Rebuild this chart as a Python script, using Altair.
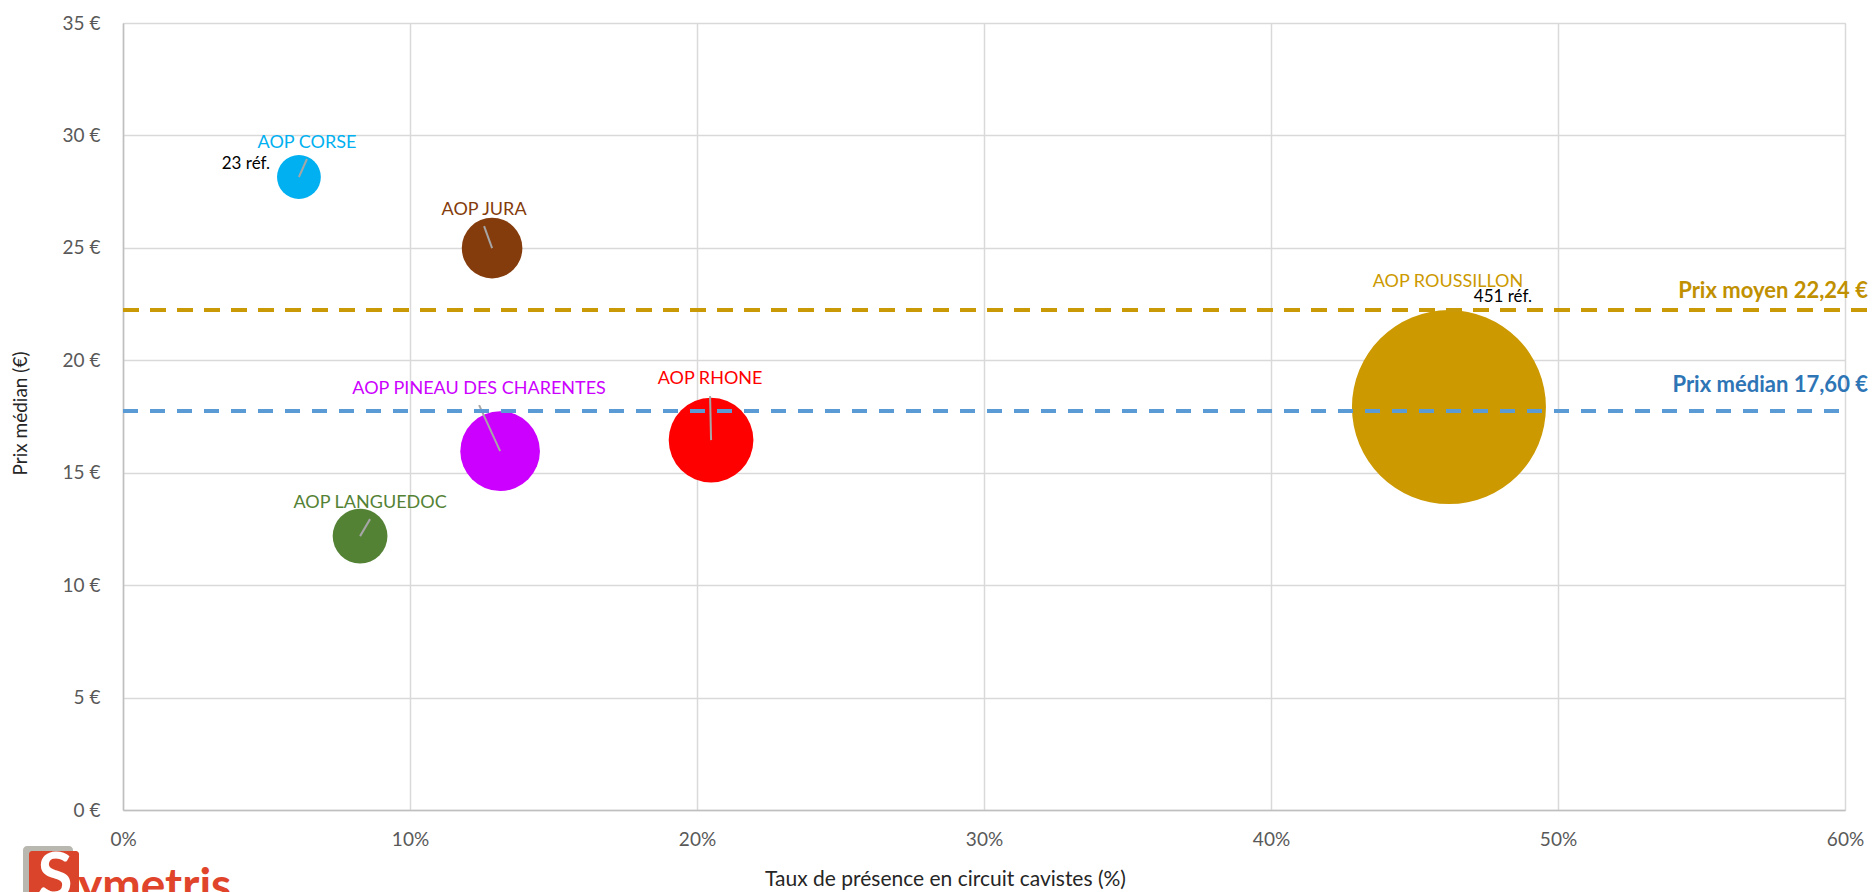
import math
import altair as alt
import pandas as pd

# ---- data ----
names = ["AOP CORSE", "AOP JURA", "AOP PINEAU DES CHARENTES", "AOP RHONE",
         "AOP LANGUEDOC", "AOP ROUSSILLON"]
presence = [0.0613, 0.1286, 0.1314, 0.2049, 0.0826, 0.4620]   # taux de présence
prix = [28.15, 24.99, 15.96, 16.45, 12.18, 17.92]             # prix médian (€)
refs = [23, 44, 76, 86, 36, 451]                                # nombre de références
ref_shown = [True, False, False, False, False, True]
colors = ["#00B0F0", "#843C0C", "#CC00FF", "#FF0000", "#548235", "#CC9900"]

prix_moyen = 22.24
prix_median_line = 17.75
moyen_label = "Prix moyen 22,24 €"
median_label = "Prix médian 17,60 €"

x_ticks = [0, 0.1, 0.2, 0.3, 0.4, 0.5, 0.6]
y_ticks = [0, 5, 10, 15, 20, 25, 30, 35]

# ---- layout / style ----
W, H = 1722, 787
X_MAX, Y_MAX = 0.6, 35
PX_X = W / X_MAX
PX_Y = H / Y_MAX
FONT = "Lato"
R_MAX = 97  # radius in px of the largest bubble

# label placement offsets in pixels relative to bubble centre (style)
label_off = [(8, -34), (-8, -38), (-21, -62), (-1, -61), (10, -33), (-1, -125)]
leader_off = [(8, -18), (-8, -22), (-21, -46), (-1, -44), (10, -17), None]
ref_off = [(-53, -13), None, None, None, None, (54, -110)]

rows = []
for i, n in enumerate(names):
    lx, ly = label_off[i]
    r = dict(name=n, x=presence[i], y=prix[i], refs=refs[i],
             lx=presence[i] + lx / PX_X, ly=prix[i] - ly / PX_Y)
    if leader_off[i] is not None:
        ex, ey = leader_off[i]
        r["ex"] = presence[i] + ex / PX_X
        r["ey"] = prix[i] - ey / PX_Y
    else:
        r["ex"] = presence[i]
        r["ey"] = prix[i]
    if ref_shown[i]:
        rx, ry = ref_off[i]
        r["rx"] = presence[i] + rx / PX_X
        r["ry"] = prix[i] - ry / PX_Y
        r["reftext"] = f"{refs[i]} réf."
    rows.append(r)
df = pd.DataFrame(rows)
df_refs = df[df["reftext"].notna()]
df_leader = df[[o is not None for o in leader_off]]

xs = alt.Scale(domain=[0, X_MAX], nice=False, zero=True)
ys = alt.Scale(domain=[0, Y_MAX], nice=False, zero=True)
color_scale = alt.Scale(domain=names, range=colors)
# Vega circle: radius = sqrt(size)/2 -> size = (2r)^2
size_scale = alt.Scale(domain=[0, max(refs)], range=[0, (2 * R_MAX) ** 2], zero=True)

x_axis = alt.Axis(values=x_ticks, format=".0%", title="Taux de présence en circuit cavistes (%)",
                  grid=True, gridColor="#D9D9D9", gridWidth=1.5, ticks=False, labelFlush=False,
                  domainColor="#BFBFBF", domainWidth=1.5,
                  labelFont=FONT, labelFontSize=19, labelColor="#595959", labelPadding=20,
                  titleFont=FONT, titleFontSize=21, titleFontWeight="normal", titleColor="#262626",
                  titleX=822, titleY=69, titleBaseline="middle", titleAlign="center")
y_axis = alt.Axis(values=y_ticks, labelExpr="datum.value + ' €'", title="Prix médian (€)",
                  grid=True, gridColor="#D9D9D9", gridWidth=1.5, ticks=False,
                  domainColor="#BFBFBF", domainWidth=1.5,
                  labelFont=FONT, labelFontSize=19, labelColor="#595959", labelPadding=23,
                  titleFont=FONT, titleFontSize=19, titleFontWeight="normal", titleColor="#262626",
                  titleX=-103, titleY=390, titleAngle=270, titleBaseline="middle", titleAlign="center")

base = alt.Chart(df)

bubbles = base.mark_circle(opacity=1, strokeWidth=0).encode(
    x=alt.X("x:Q", scale=xs, axis=x_axis),
    y=alt.Y("y:Q", scale=ys, axis=y_axis),
    size=alt.Size("refs:Q", scale=size_scale, legend=None),
    color=alt.Color("name:N", scale=color_scale, legend=None),
)

leaders = alt.Chart(df_leader).mark_rule(color="#A6A6A6", strokeWidth=2).encode(
    x=alt.X("x:Q", scale=xs), y=alt.Y("y:Q", scale=ys), x2="ex:Q", y2="ey:Q")

labels = base.mark_text(font=FONT, fontSize=18, align="center", baseline="middle").encode(
    x=alt.X("lx:Q", scale=xs), y=alt.Y("ly:Q", scale=ys), text="name:N",
    color=alt.Color("name:N", scale=color_scale, legend=None))

ref_labels = alt.Chart(df_refs).mark_text(font=FONT, fontSize=17, align="center",
                                          baseline="middle", color="#000000").encode(
    x=alt.X("rx:Q", scale=xs), y=alt.Y("ry:Q", scale=ys), text="reftext:N")

lines_df = pd.DataFrame({"y": [prix_moyen, prix_median_line], "kind": ["moyen", "median"]})
mean_line = alt.Chart(lines_df[lines_df.kind == "moyen"]).mark_rule(
    color="#C99A06", strokeWidth=4, strokeDash=[16, 11], clip=False).encode(
    y=alt.Y("y:Q", scale=ys), x=alt.datum(0), x2=alt.datum(X_MAX + 31 / PX_X))
median_line = alt.Chart(lines_df[lines_df.kind == "median"]).mark_rule(
    color="#5B9BD5", strokeWidth=4, strokeDash=[15, 12]).encode(
    y=alt.Y("y:Q", scale=ys), x=alt.datum(0), x2=alt.datum(X_MAX))

mean_text = alt.Chart(lines_df[lines_df.kind == "moyen"]).mark_text(
    font=FONT, fontSize=22, fontWeight="bold", color="#C09000", align="right",
    baseline="middle", dy=-19).encode(
    y=alt.Y("y:Q", scale=ys), x=alt.datum(X_MAX + 23 / PX_X), text=alt.value(moyen_label))
median_text = alt.Chart(lines_df[lines_df.kind == "median"]).mark_text(
    font=FONT, fontSize=22, fontWeight="bold", color="#2E75B6", align="right",
    baseline="middle", dy=-26).encode(
    y=alt.Y("y:Q", scale=ys), x=alt.datum(X_MAX + 23 / PX_X), text=alt.value(median_label))

# logo (decoration, partially cut at the bottom like in the reference)
logo_df = pd.DataFrame({"t": ["Symetris"]})
logo_shadow = alt.Chart(logo_df).mark_rect(color="#B8B8B0", cornerRadius=4).encode(
    x=alt.value(-100), x2=alt.value(-50), y=alt.value(H + 36), y2=alt.value(H + 100))
logo_box = alt.Chart(logo_df).mark_rect(color="#D9442A", cornerRadius=3).encode(
    x=alt.value(-94), x2=alt.value(-44), y=alt.value(H + 41), y2=alt.value(H + 100))
logo_s = alt.Chart(logo_df).mark_text(font=FONT, fontSize=64, fontWeight="bold", color="#FFFFFF",
                                      align="center", baseline="top").encode(
    x=alt.value(-68), y=alt.value(H + 37), text=alt.value("S"))
logo_txt = alt.Chart(logo_df).mark_text(font=FONT, fontSize=46, fontWeight="bold", color="#E0452B",
                                        align="left", baseline="top").encode(
    x=alt.value(-45), y=alt.value(H + 55), text=alt.value("ymetris"))

chart = alt.layer(
    bubbles, leaders, mean_line, median_line, labels, ref_labels, mean_text, median_text,
    logo_shadow, logo_box, logo_s, logo_txt,
).properties(
    width=W, height=H,
    autosize=alt.AutoSizeParams(type="none"),
    padding={"left": 115, "top": 15, "right": 23, "bottom": 84},
).configure_view(stroke=None).configure(background="#FFFFFF")

chart.save("out.html", embed_options={"renderer": "svg", "actions": False})
